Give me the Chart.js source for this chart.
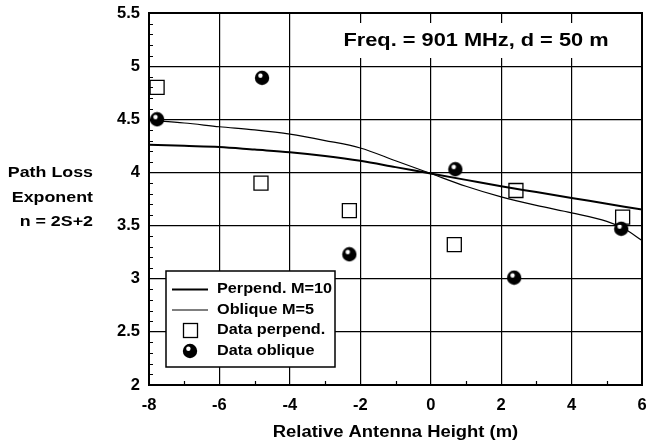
<!DOCTYPE html>
<html>
<head>
<meta charset="utf-8">
<script src="https://cdn.jsdelivr.net/npm/chart.js@4.4.1/dist/chart.umd.min.js"></script>
<style>
  html, body { margin: 0; padding: 0; background: #fff; }
  canvas { display: block; }
</style>
</head>
<body>
<canvas id="grafico" width="647" height="447"></canvas>
<script>
/* ===================== DATOS ===================== */
// curvas teoricas
const curvaPerpX = [-8, -7, -6, -5, -4, -3, -2, -1, 0, 1, 2, 3, 4, 5, 6];
const curvaPerpY = [4.26, 4.25, 4.24, 4.215, 4.19, 4.155, 4.11, 4.05, 3.99, 3.93, 3.87, 3.815, 3.76, 3.705, 3.65];
const curvaOblX = [-8, -7, -6, -5, -4, -3, -2, -1, 0, 1, 2, 3, 4, 5, 5.5, 6];
const curvaOblY = [4.49, 4.465, 4.43, 4.40, 4.36, 4.30, 4.23, 4.11, 3.99, 3.87, 3.77, 3.69, 3.62, 3.54, 3.47, 3.36];

// mediciones
const datosPerpX = [-7.77, -4.82, -2.31, 0.67, 2.42, 5.45];
const datosPerpY = [4.80, 3.90, 3.64, 3.32, 3.83, 3.58];
const datosOblX = [-7.77, -4.79, -2.31, 0.70, 2.37, 5.41];
const datosOblY = [4.50, 4.89, 3.23, 4.03, 3.01, 3.47];

const etiquetas = ["Perpend. M=10", "Oblique M=5", "Data perpend.", "Data oblique"];
const textoFrecuencia = "Freq. = 901 MHz, d = 50 m";
const tituloX = "Relative Antenna Height (m)";
const tituloY = ["Path Loss", "Exponent", "n = 2S+2"];

/* ===================== UTIL ===================== */
const FAMILIA = '"Liberation Sans", Arial, Helvetica, sans-serif';
const pares = (xs, ys) => xs.map((x, i) => ({ x: x, y: ys[i] }));

// bolita negra con brillo
function crearBolita() {
  const c = document.createElement("canvas");
  c.width = 16;
  c.height = 16;
  const g = c.getContext("2d");
  g.fillStyle = "#000";
  g.beginPath();
  g.arc(8, 8, 7.2, 0, Math.PI * 2);
  g.fill();
  g.fillStyle = "#fff";
  g.beginPath();
  g.arc(6.4, 5.8, 2.2, 0, Math.PI * 2);
  g.fill();
  return c;
}
const bolita = crearBolita();

function texto(ctx, txt, x, y, size, sx, align) {
  ctx.save();
  ctx.font = "bold " + size + "px " + FAMILIA;
  ctx.fillStyle = "#000";
  ctx.textAlign = align;
  ctx.textBaseline = "middle";
  ctx.translate(x, y);
  ctx.scale(sx, 1);
  ctx.fillText(txt, 0, 0);
  ctx.restore();
}

/* ===================== DECORACION ===================== */
const decoracion = {
  id: "decoracion",
  beforeDatasetsDraw(chart) {
    const ctx = chart.ctx;
    const a = chart.chartArea;
    const sx = chart.scales.x;
    const sy = chart.scales.y;

    ctx.save();
    ctx.strokeStyle = "#000";
    ctx.lineWidth = 1.2;
    ctx.beginPath();
    // ticks menores eje y
    for (let i = 20; i <= 55; i++) {
      if (i % 5 === 0) continue;
      const py = Math.round(sy.getPixelForValue(i / 10)) + 0.5;
      ctx.moveTo(a.left, py);
      ctx.lineTo(a.left + 4, py);
    }
    // ticks menores eje x
    for (let v = -7; v <= 5; v += 2) {
      const px = Math.round(sx.getPixelForValue(v)) + 0.5;
      ctx.moveTo(px, a.bottom);
      ctx.lineTo(px, a.bottom - 4);
    }
    ctx.stroke();

    // recuadro blanco del texto
    ctx.fillStyle = "#fff";
    ctx.fillRect(336, 23, 282, 35);
    ctx.restore();
    texto(ctx, textoFrecuencia, 476, 41, 19, 1.146, "center");

    // marco
    ctx.save();
    ctx.strokeStyle = "#000";
    ctx.lineWidth = 2;
    ctx.strokeRect(a.left, a.top, a.right - a.left, a.bottom - a.top);
    ctx.restore();
  },
  afterDraw(chart) {
    const ctx = chart.ctx;
    const a = chart.chartArea;

    // leyenda
    ctx.save();
    ctx.fillStyle = "#fff";
    ctx.fillRect(166, 271, 169, 96);
    ctx.strokeStyle = "#000";
    ctx.lineWidth = 1.5;
    ctx.strokeRect(166, 271, 169, 96);

    ctx.lineWidth = 2;
    ctx.beginPath();
    ctx.moveTo(172, 289.5);
    ctx.lineTo(208, 289.5);
    ctx.stroke();
    ctx.lineWidth = 1.2;
    ctx.beginPath();
    ctx.moveTo(172, 310);
    ctx.lineTo(208, 310);
    ctx.stroke();
    ctx.lineWidth = 1.3;
    ctx.strokeRect(183.5, 323.5, 14, 14);
    ctx.drawImage(bolita, 182, 343);
    ctx.restore();

    const filas = [289, 309.5, 330, 350.5];
    etiquetas.forEach((t, i) => texto(ctx, t, 217, filas[i], 14.5, 1.12, "left"));

    // titulos
    texto(ctx, tituloX, (a.left + a.right) / 2, 433, 16, 1.15, "center");
    tituloY.forEach((t, i) => texto(ctx, t, 93, 173 + i * 24.5, 15.5, 1.15, "right"));
  },
};

/* ===================== GRAFICO ===================== */
const fuenteTicks = { family: FAMILIA, size: 16.5, weight: "bold" };

new Chart(document.getElementById("grafico"), {
  type: "line",
  data: {
    datasets: [
      {
        label: etiquetas[2],
        data: pares(datosPerpX, datosPerpY),
        showLine: false,
        pointStyle: "rect",
        pointRadius: 9.9,
        pointBorderWidth: 1.3,
        borderColor: "#000",
        backgroundColor: "rgba(0,0,0,0)",
        order: 0,
      },
      {
        label: etiquetas[3],
        data: pares(datosOblX, datosOblY),
        showLine: false,
        pointStyle: bolita,
        pointRadius: 7,
        borderColor: "#000",
        backgroundColor: "#000",
        order: 0,
      },
      {
        label: etiquetas[0],
        data: pares(curvaPerpX, curvaPerpY),
        borderColor: "#000",
        borderWidth: 2,
        pointRadius: 0,
        cubicInterpolationMode: "monotone",
        order: 1,
      },
      {
        label: etiquetas[1],
        data: pares(curvaOblX, curvaOblY),
        borderColor: "#000",
        borderWidth: 1.2,
        pointRadius: 0,
        cubicInterpolationMode: "monotone",
        order: 1,
      },
    ],
  },
  plugins: [decoracion],
  options: {
    responsive: false,
    animation: false,
    devicePixelRatio: 1,
    layout: { autoPadding: false, padding: { top: 13, right: 5, left: 0, bottom: 0 } },
    plugins: {
      legend: { display: false },
      tooltip: { enabled: false },
    },
    scales: {
      x: {
        type: "linear",
        min: -8,
        max: 6,
        ticks: { stepSize: 2, color: "#000", font: fuenteTicks, padding: 11, maxRotation: 0 },
        grid: { color: "#000", lineWidth: 1.2, drawTicks: false },
        border: { color: "#000", width: 2 },
        afterFit: (s) => {
          s.height = 62;
          s.paddingLeft = 0;
          s.paddingRight = 0;
        },
      },
      y: {
        type: "linear",
        min: 2,
        max: 5.5,
        ticks: {
          stepSize: 0.5,
          color: "#000",
          font: fuenteTicks,
          padding: 9,
          callback: (v) => String(v),
        },
        grid: { color: "#000", lineWidth: 1.2, drawTicks: false },
        border: { color: "#000", width: 2 },
        afterFit: (s) => {
          s.width = 149;
          s.paddingTop = 0;
          s.paddingBottom = 0;
        },
      },
    },
  },
});
</script>
</body>
</html>
